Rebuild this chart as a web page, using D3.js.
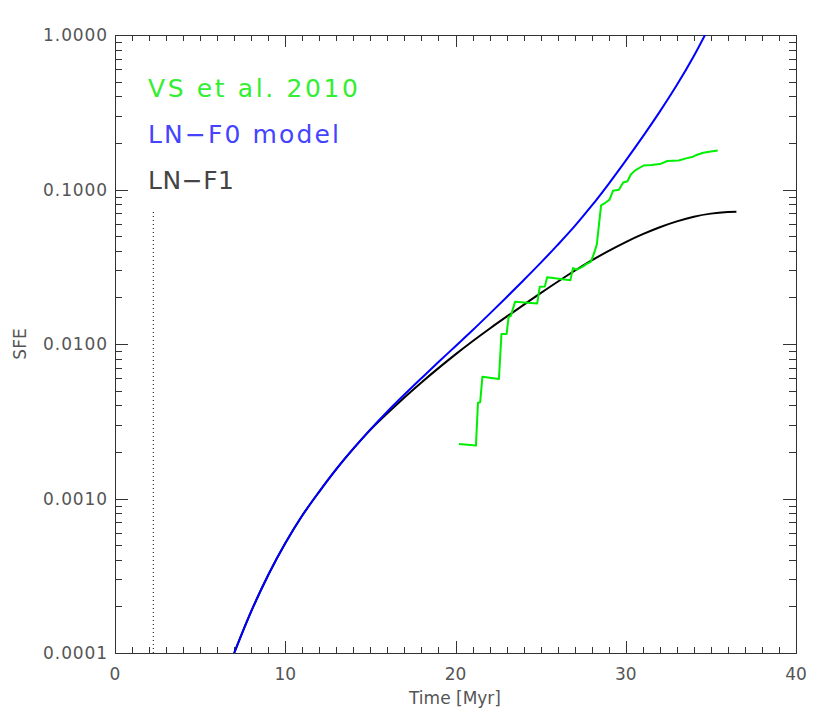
<!DOCTYPE html>
<html><head><meta charset="utf-8">
<script src="https://cdn.jsdelivr.net/npm/d3@7"></script>
<style>body{margin:0;background:#fff}svg{display:block}text{font-family:"DejaVu Sans",sans-serif}</style>
</head><body><svg id="c" width="830" height="726"></svg>
<script>
// ---- data ----
const xTickValues = [0, 10, 20, 30, 40];
const yTickValues = [0.0001, 0.001, 0.01, 0.1, 1];
const yTickLabels = ["0.0001", "0.0010", "0.0100", "0.1000", "1.0000"];
const legendLabels = ["VS et al. 2010", "LN\u2212F0 model", "LN\u2212F1"];

const f0Time = [7, 8, 9, 10, 11, 12, 13, 14, 15, 16, 17, 18, 19, 20, 21, 22, 23, 24, 25, 26, 27, 28, 29, 30, 31, 32, 33, 34, 35];
const f0SFE  = [0.0001, 0.000186, 0.000320, 0.000513, 0.000776, 0.001109, 0.001549, 0.00210, 0.00280, 0.00366, 0.00471, 0.00601, 0.00764, 0.00968, 0.01227, 0.01567, 0.02009, 0.02588, 0.0335, 0.0438, 0.0579, 0.0785, 0.1089, 0.1538, 0.2198, 0.319, 0.474, 0.731, 1.186];

const f1Time = [7, 8, 9, 10, 11, 12, 13, 14, 15, 16, 17, 18, 19, 20, 21, 22, 23, 24, 25, 26, 27, 28, 29, 30, 31, 32, 33, 34, 35, 36, 36.5];
const f1SFE  = [0.0001, 0.000186, 0.000320, 0.000513, 0.000776, 0.001109, 0.001549, 0.00210, 0.00278, 0.00356, 0.00451, 0.00564, 0.00698, 0.00857, 0.01042, 0.01256, 0.01503, 0.01791, 0.02133, 0.02529, 0.02979, 0.03475, 0.04009, 0.04571, 0.0514, 0.0570, 0.0622, 0.0667, 0.0698, 0.0715, 0.0718];

const vsTime = [20.2, 21.2, 21.32, 21.45, 21.58, 22.55, 22.7, 23.0, 23.12, 23.25, 23.5, 24.8, 24.95, 25.25, 25.38, 26.75, 26.9, 27.1, 27.3, 27.5, 27.7, 27.95, 28.15, 28.3, 28.55, 28.8, 29.05, 29.25, 29.6, 29.85, 30.1, 30.3, 30.55, 31.05, 31.5, 32.0, 32.45, 33.1, 33.55, 33.95, 34.2, 34.55, 35.0, 35.4];
const vsSFE  = [0.00225, 0.00220, 0.00417, 0.00420, 0.00614, 0.00594, 0.0116, 0.0116, 0.0150, 0.0152, 0.0188, 0.0183, 0.0235, 0.0236, 0.0270, 0.0259, 0.0310, 0.0303, 0.0310, 0.0318, 0.0330, 0.0340, 0.0390, 0.0440, 0.0790, 0.0820, 0.0860, 0.0980, 0.0995, 0.111, 0.113, 0.125, 0.133, 0.143, 0.144, 0.146, 0.153, 0.154, 0.159, 0.163, 0.168, 0.173, 0.176, 0.179];

const markerTime = [2.25, 2.25];
const markerSFE = [0.0001, 0.0715];

// ---- layout ----
const L = 115, R = 796, T = 35, B = 653;
const svg = d3.select("#c");
const x = d3.scaleLinear().domain([0, 40]).range([L, R]);
const y = d3.scaleLog().domain([0.0001, 1]).range([B, T]);
const axisCol = "#333";
const labCol = "#555";

svg.append("clipPath").attr("id", "clip").append("rect")
  .attr("x", L).attr("y", T).attr("width", R - L).attr("height", B - T);

const xMinor = d3.range(0, 41, 1).filter(v => v % 10 !== 0);
const yMinor = [];
for (let e = -4; e < 0; e++) for (let m = 2; m <= 9; m++) yMinor.push(m * Math.pow(10, e));

const axG = svg.append("g").attr("stroke", axisCol).attr("stroke-width", 1).attr("shape-rendering", "crispEdges");
axG.append("g").attr("transform", `translate(0,${B})`)
  .call(d3.axisTop(x).tickValues(xTickValues).tickSize(12).tickFormat(""));
axG.append("g").attr("transform", `translate(0,${B})`)
  .call(d3.axisTop(x).tickValues(xMinor).tickSize(6).tickFormat(""));
axG.append("g").attr("transform", `translate(0,${T})`)
  .call(d3.axisBottom(x).tickValues(xTickValues).tickSize(12).tickFormat(""));
axG.append("g").attr("transform", `translate(0,${T})`)
  .call(d3.axisBottom(x).tickValues(xMinor).tickSize(6).tickFormat(""));
axG.append("g").attr("transform", `translate(${L},0)`)
  .call(d3.axisRight(y).tickValues(yTickValues).tickSize(13).tickFormat(""));
axG.append("g").attr("transform", `translate(${L},0)`)
  .call(d3.axisRight(y).tickValues(yMinor).tickSize(7).tickFormat(""));
axG.append("g").attr("transform", `translate(${R},0)`)
  .call(d3.axisLeft(y).tickValues(yTickValues).tickSize(13).tickFormat(""));
axG.append("g").attr("transform", `translate(${R},0)`)
  .call(d3.axisLeft(y).tickValues(yMinor).tickSize(7).tickFormat(""));
axG.selectAll("path.domain").attr("stroke", axisCol);
axG.selectAll(".tick line").attr("stroke", axisCol);

svg.append("g").selectAll("text").data(xTickValues).join("text")
  .attr("x", d => x(d)).attr("y", 680).attr("text-anchor", "middle")
  .attr("font-size", 17).attr("fill", labCol).text(d => d);
svg.append("g").selectAll("text").data(yTickValues).join("text")
  .attr("x", 108).attr("y", d => y(d) + 6).attr("text-anchor", "end")
  .attr("font-size", 17).attr("letter-spacing", 0.9).attr("fill", labCol)
  .text((d, i) => yTickLabels[i]);

svg.append("text").attr("x", 455).attr("y", 704).attr("text-anchor", "middle")
  .attr("font-size", 17).attr("fill", labCol).text("Time [Myr]");
svg.append("text").attr("transform", "translate(26,344) rotate(-90)").attr("text-anchor", "middle")
  .attr("font-size", 17).attr("fill", labCol).text("SFE");

const plot = svg.append("g").attr("clip-path", "url(#clip)");
const line = d3.line().x(d => x(d[0])).y(d => y(d[1]));
plot.append("path").datum(markerTime.map((t, i) => [t, markerSFE[i]]))
  .attr("d", line).attr("fill", "none").attr("stroke", "#000").attr("stroke-width", 1)
  .attr("stroke-dasharray", "1,3");
const smooth = d3.line().x(d => x(d[0])).y(d => y(d[1])).curve(d3.curveCatmullRom);
plot.append("path").datum(f1Time.map((t, i) => [t, f1SFE[i]]))
  .attr("d", smooth).attr("fill", "none").attr("stroke", "#000").attr("stroke-width", 2);
plot.append("path").datum(f0Time.map((t, i) => [t, f0SFE[i]]))
  .attr("d", smooth).attr("fill", "none").attr("stroke", "#0000ff").attr("stroke-width", 2);
plot.append("path").datum(vsTime.map((t, i) => [t, vsSFE[i]]))
  .attr("d", line).attr("fill", "none").attr("stroke", "#00ee00").attr("stroke-width", 2)
  .attr("stroke-linejoin", "round");

const legCols = ["#33ee33", "#4444ff", "#444"];
const legLens = [210, 191, 86];
svg.append("g").selectAll("text").data(legendLabels).join("text")
  .attr("x", 148).attr("y", (d, i) => 97 + i * 46)
  .attr("font-size", 25).attr("fill", (d, i) => legCols[i])
  .attr("textLength", (d, i) => legLens[i]).attr("lengthAdjust", "spacing")
  .text(d => d);
</script></body></html>
